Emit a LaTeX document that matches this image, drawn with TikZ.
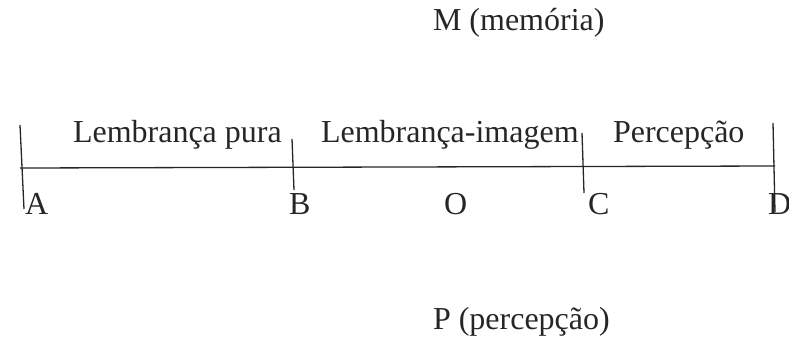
\documentclass[tikz,border=0pt]{standalone}
\usepackage{fontspec}
\setmainfont{Liberation Serif}
\begin{document}
\begin{tikzpicture}[x=1pt,y=-1pt,
  lbl/.style={anchor=base west,inner sep=0pt,outer sep=0pt,font=\fontsize{32}{38}\selectfont,text=black!85},
  ln/.style={line width=1.3pt,black!85}]
\useasboundingbox (0,0) rectangle (789,354);
% main line
\coordinate (L) at (20,168);
\coordinate (R) at (775,166);
\draw[ln] (L) -- (R);
% ticks
\coordinate (At) at (20,125); \coordinate (Ab) at (24,209);
\coordinate (Bt) at (292,139); \coordinate (Bb) at (294,190);
\coordinate (Ct) at (582,133); \coordinate (Cb) at (584,193);
\coordinate (Dt) at (773,123); \coordinate (Db) at (775,212);
\draw[ln] (At) -- (Ab);
\draw[ln] (Bt) -- (Bb);
\draw[ln] (Ct) -- (Cb);
\draw[ln] (Dt) -- (Db);
% labels
\node[lbl] (m) at (433,30) {M (memória)};
\node[lbl] (p) at (433,329) {P (percepção)};
\node[lbl] (lp) at (73,142) {Lembrança pura};
\node[lbl] (li) at (321,142) {Lembrança-imagem};
\node[lbl] (pc) at (613,142) {Percepção};
\node[lbl] (a) at (25,214) {A};
\node[lbl] (b) at (289,214) {B};
\node[lbl] (o) at (444,214) {O};
\node[lbl] (c) at (588,214) {C};
\node[lbl] (d) at (768,214) {D};
\end{tikzpicture}
\end{document}
